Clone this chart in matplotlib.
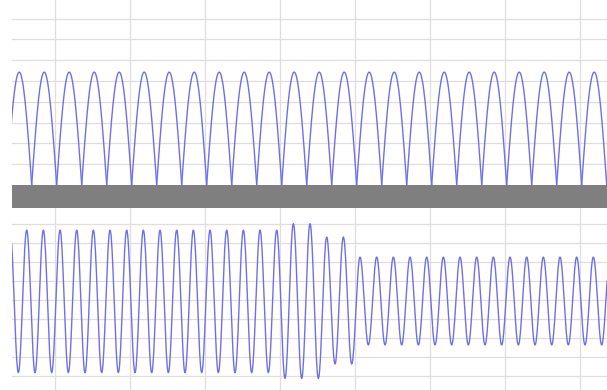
import numpy as np
import matplotlib
matplotlib.use("Agg")
import matplotlib.pyplot as plt

# ---- data ----
# time axis in ms
x_range = (12.8, 250.8)
x_grid = [30, 60, 90, 120, 150, 180, 210, 240]

# top panel: rectified wave, hump start times and hump peak values
hump_period = 10.0
hump_first_zero = 10.68
hump_peaks = [5.43] * 25
top_ylim = (0, 8.9)
top_grid = [1, 2, 3, 4, 5, 6, 7, 8]

# bottom panel: sine wave, alternating extrema (peak, trough, peak, ...)
half_period = 10.0 / 3.0
first_peak_time = 12.01
peak_values = [3.66] * 17 + [4.0, 4.0] + [3.3, 3.3] + [2.25] * 16
trough_values = [-3.8] * 16 + [-4.1, -4.1, -4.1] + [-3.35, -3.35] + [-2.35] * 15
bot_ylim = (-4.71, 4.82)
bot_grid = [-4, -3, -2, -1, 0, 1, 2, 3, 4]

line_color = "#6f6fe8"
grid_color = "#dedede"
bar_color = "#7f7f7f"

# ---- figure ----
W, H = 607, 390
fig = plt.figure(figsize=(W / 100, H / 100), dpi=100)
left = 12 / W
width = 1 - left
ax_top = fig.add_axes([left, 1 - 185 / H, width, 185 / H])
ax_bar = fig.add_axes([left, 1 - 208 / H, width, 23 / H])
ax_bot = fig.add_axes([left, 0, width, 182 / H])

for ax in (ax_top, ax_bar, ax_bot):
    ax.set_xlim(*x_range)
    ax.set_xticks([])
    ax.set_yticks([])
    for s in ax.spines.values():
        s.set_visible(False)

# grids
for ax, yl, yg in ((ax_top, top_ylim, top_grid), (ax_bot, bot_ylim, bot_grid)):
    ax.set_ylim(*yl)
    for g in yg:
        ax.axhline(g, color=grid_color, lw=0.9, zorder=0)
    for g in x_grid:
        ax.axvline(g, color=grid_color, lw=0.9, zorder=0)

# top rectified wave
for i, pk in enumerate(hump_peaks):
    t0 = hump_first_zero + i * hump_period
    t = np.linspace(t0, t0 + hump_period, 60)
    y = pk * np.abs(np.sin(np.pi * (t - t0) / hump_period))
    ax_top.plot(t, y, color=line_color, lw=1.0, zorder=3)

# bar
ax_bar.set_ylim(0, 1)
ax_bar.axvspan(x_range[0], x_range[1], color=bar_color, lw=0)

# bottom wave: extrema sequence
ext = []
for i in range(len(peak_values)):
    ext.append(peak_values[i])
    if i < len(trough_values):
        ext.append(trough_values[i])
ts, ys = [], []
for j in range(len(ext) - 1):
    a, b = ext[j], ext[j + 1]
    t0 = first_peak_time + j * half_period
    s = np.linspace(0, 1, 20, endpoint=False)
    ts.append(t0 + s * half_period)
    ys.append(a + (b - a) * (1 - np.cos(np.pi * s)) / 2)
ax_bot.plot(np.concatenate(ts), np.concatenate(ys), color=line_color, lw=1.0, zorder=3)

fig.savefig("out.png", dpi=100)
